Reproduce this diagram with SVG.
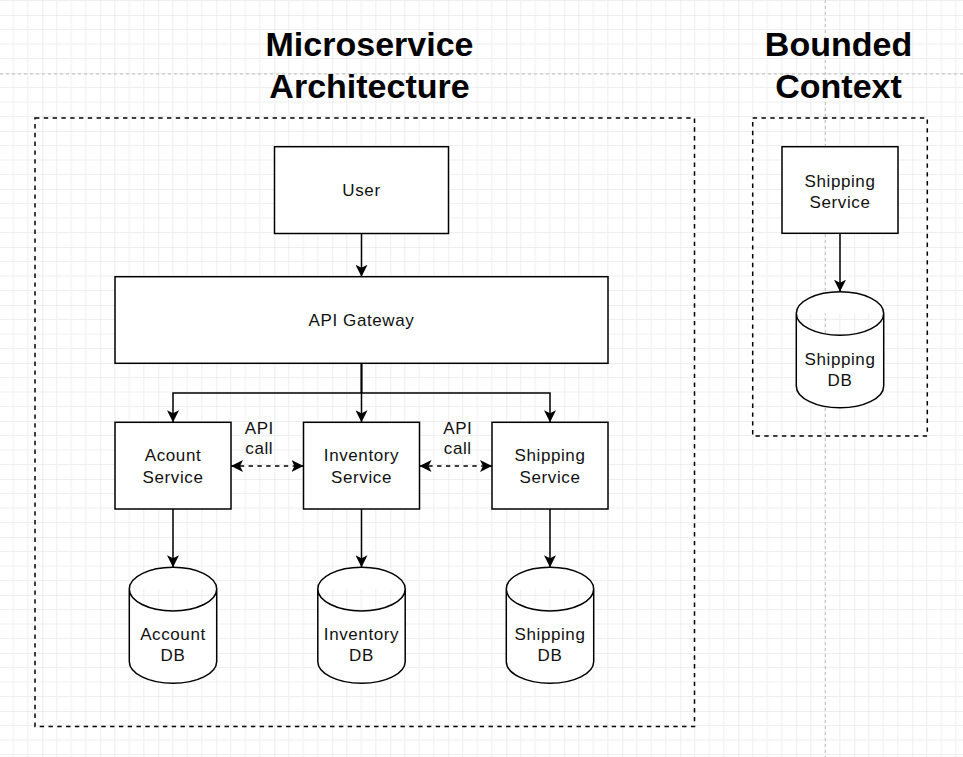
<svg xmlns="http://www.w3.org/2000/svg" xmlns:xlink="http://www.w3.org/1999/xlink" width="963" height="757" viewBox="0 0 963 757">
<style>
.box{fill:#fff;stroke:#000;stroke-width:1.5}
.cont{fill:none;stroke:#000;stroke-width:1.5;stroke-dasharray:4.4 4.4}
.edge{fill:none;stroke:#000;stroke-width:1.5}
.dash{stroke-dasharray:4.4 4.4}
.lbl{font-family:"Liberation Sans",Arial,Helvetica,sans-serif;font-size:17px;fill:#111;text-anchor:middle;letter-spacing:0.6px}
.title{font-family:"Liberation Sans",Arial,Helvetica,sans-serif;font-size:34px;font-weight:bold;fill:#000;text-anchor:middle}
.pb{stroke:#bdbdbd;stroke-width:1;stroke-dasharray:3 3;fill:none}
</style>
<defs>
<pattern id="grid" patternUnits="userSpaceOnUse" x="42.3" y="15" width="58" height="58">
<path d="M14.5,0V58M29,0V58M43.5,0V58M0,14.5H58M0,29H58M0,43.5H58" stroke="#efefef" stroke-width="1" fill="none"/>
<path d="M0,0V58M0,0H58" stroke="#dedede" stroke-width="1" fill="none"/>
</pattern>
<marker id="arr" markerUnits="userSpaceOnUse" markerWidth="12" markerHeight="12" viewBox="0 0 12 12" refX="12" refY="6" orient="auto-start-reverse">
<path d="M12,6L0,0L3,6L0,12Z" fill="#000"/>
</marker>
<path id="cyl" d="M0,21.8A43.7,21.8 0 0 1 87.4,21.8V94.2A43.7,21.8 0 0 1 0,94.2Z M0,21.8A43.7,21.8 0 0 0 87.4,21.8"/>
</defs>
<rect width="963" height="757" fill="#fff"/>
<rect width="963" height="757" fill="url(#grid)"/>
<path class="pb" d="M0,74H963M825.3,0V757"/>

<g id="titles">
<text class="title" x="369.5" y="56">Microservice</text>
<text class="title" x="369.5" y="97.5">Architecture</text>
<text class="title" x="838.5" y="56">Bounded</text>
<text class="title" x="838.5" y="97.5">Context</text>
</g>

<g id="microservice-container"><rect class="cont" x="35" y="118" width="659.5" height="608.5"/></g>
<g id="bounded-container"><rect class="cont" x="752.7" y="118" width="174.6" height="318"/></g>

<g id="connectors">
<path class="edge" marker-end="url(#arr)" d="M361.5,233.5V276.7"/>
<path class="edge" marker-end="url(#arr)" d="M361.5,363.3V393H173V422.3"/>
<path class="edge" marker-end="url(#arr)" d="M361.5,363.3V422.3"/>
<path class="edge" marker-end="url(#arr)" d="M361.5,363.3V393H550V422.3"/>
<path class="edge dash" marker-start="url(#arr)" marker-end="url(#arr)" d="M231,466H303.5"/>
<path class="edge dash" marker-start="url(#arr)" marker-end="url(#arr)" d="M419.5,466H492"/>
<path class="edge" marker-end="url(#arr)" d="M173,509V567.3"/>
<path class="edge" marker-end="url(#arr)" d="M361.5,509V567.3"/>
<path class="edge" marker-end="url(#arr)" d="M550,509V567.3"/>
<path class="edge" marker-end="url(#arr)" d="M840,233.3V291.7"/>
<text class="lbl" x="259.3" y="433.5">API</text>
<text class="lbl" x="259.3" y="454">call</text>
<text class="lbl" x="457.8" y="433.5">API</text>
<text class="lbl" x="457.8" y="454">call</text>
</g>

<g id="user">
<rect class="box" x="274.5" y="146.7" width="174" height="86.8"/>
<text class="lbl" x="361.5" y="196">User</text>
</g>
<g id="api-gateway">
<rect class="box" x="115" y="276.7" width="493" height="86.6"/>
<text class="lbl" x="361.5" y="326">API Gateway</text>
</g>
<g id="account-service">
<rect class="box" x="115" y="422.3" width="116" height="86.7"/>
<text class="lbl" x="173" y="461">Acount</text>
<text class="lbl" x="173" y="483">Service</text>
</g>
<g id="inventory-service">
<rect class="box" x="303.5" y="422.3" width="116" height="86.7"/>
<text class="lbl" x="361.5" y="461">Inventory</text>
<text class="lbl" x="361.5" y="483">Service</text>
</g>
<g id="shipping-service">
<rect class="box" x="492" y="422.3" width="116" height="86.7"/>
<text class="lbl" x="550" y="461">Shipping</text>
<text class="lbl" x="550" y="483">Service</text>
</g>
<g id="account-db">
<use xlink:href="#cyl" href="#cyl" class="box" x="129.3" y="567.3"/>
<text class="lbl" x="173" y="639.5">Account</text>
<text class="lbl" x="173" y="661">DB</text>
</g>
<g id="inventory-db">
<use xlink:href="#cyl" href="#cyl" class="box" x="317.8" y="567.3"/>
<text class="lbl" x="361.5" y="639.5">Inventory</text>
<text class="lbl" x="361.5" y="661">DB</text>
</g>
<g id="shipping-db">
<use xlink:href="#cyl" href="#cyl" class="box" x="506.3" y="567.3"/>
<text class="lbl" x="550" y="639.5">Shipping</text>
<text class="lbl" x="550" y="661">DB</text>
</g>
<g id="bc-shipping-service">
<rect class="box" x="782" y="146.7" width="116" height="86.6"/>
<text class="lbl" x="840" y="187">Shipping</text>
<text class="lbl" x="840" y="208">Service</text>
</g>
<g id="bc-shipping-db">
<use xlink:href="#cyl" href="#cyl" class="box" x="796.3" y="291.7"/>
<text class="lbl" x="840" y="364.5">Shipping</text>
<text class="lbl" x="840" y="386">DB</text>
</g>
</svg>
